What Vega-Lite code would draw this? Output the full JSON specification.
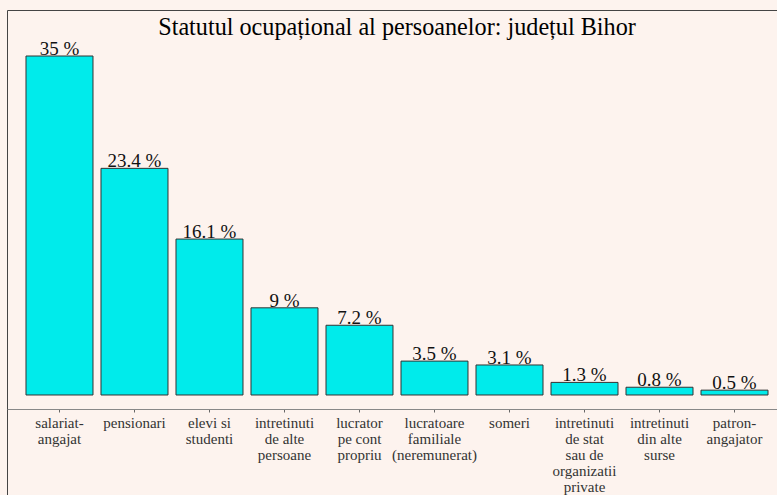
{
  "$schema": "https://vega.github.io/schema/vega-lite/v6.json",
  "autosize": "none",
  "width": 780,
  "height": 505,
  "padding": {"left": 7, "top": 10, "right": -10, "bottom": -20},
  "background": "#FDF3EE",
  "title": {
    "text": "Statutul ocupațional al persoanelor: județul Bihor",
    "font": "Liberation Serif",
    "fontSize": 24.2,
    "fontWeight": "normal",
    "color": "#000000",
    "anchor": "middle",
    "baseline": "alphabetic",
    "offset": -49
  },
  "config": {"view": {"stroke": "#444444", "strokeWidth": 1, "fill": "#FDF3EE"}},
  "data": {
    "values": [
      {"categorie": "salariat-|angajat", "procent": 35, "eticheta": "35 %"},
      {"categorie": "pensionari", "procent": 23.4, "eticheta": "23.4 %"},
      {"categorie": "elevi si|studenti", "procent": 16.1, "eticheta": "16.1 %"},
      {"categorie": "intretinuti|de alte|persoane", "procent": 9, "eticheta": "9 %"},
      {"categorie": "lucrator|pe cont|propriu", "procent": 7.2, "eticheta": "7.2 %"},
      {"categorie": "lucratoare|familiale|(neremunerat)", "procent": 3.5, "eticheta": "3.5 %"},
      {"categorie": "someri", "procent": 3.1, "eticheta": "3.1 %"},
      {"categorie": "intretinuti|de stat|sau de|organizatii|private", "procent": 1.3, "eticheta": "1.3 %"},
      {"categorie": "intretinuti|din alte|surse", "procent": 0.8, "eticheta": "0.8 %"},
      {"categorie": "patron-|angajator", "procent": 0.5, "eticheta": "0.5 %"}
    ]
  },
  "encoding": {
    "x": {
      "field": "categorie",
      "type": "nominal",
      "sort": null,
      "scale": {"paddingInner": 0.1067, "paddingOuter": 0.2533},
      "axis": {
        "orient": "bottom",
        "offset": -106,
        "title": null,
        "labelAngle": 0,
        "labelFont": "Liberation Serif",
        "labelFontSize": 15,
        "labelColor": "#333333",
        "labelLineHeight": 16,
        "labelExpr": "split(datum.label, '|')",
        "labelBaseline": "alphabetic",
        "labelPadding": 15,
        "labelLimit": 0,
        "domainColor": "#888888",
        "ticks": true,
        "tickSize": 3,
        "tickColor": "#666666"
      }
    }
  },
  "layer": [
    {
      "mark": {"type": "bar", "fill": "#00EBEB", "stroke": "#333333", "strokeWidth": 1},
      "encoding": {
        "y": {
          "field": "procent",
          "type": "quantitative",
          "scale": {"domain": [-12.39, 39.75], "nice": false, "zero": false},
          "axis": null
        },
        "y2": {"datum": 0}
      }
    },
    {
      "mark": {"type": "text", "font": "Liberation Serif", "fontSize": 19, "baseline": "alphabetic", "dy": -1, "color": "#111111"},
      "encoding": {
        "y": {"field": "procent", "type": "quantitative"},
        "text": {"field": "eticheta"}
      }
    }
  ]
}
